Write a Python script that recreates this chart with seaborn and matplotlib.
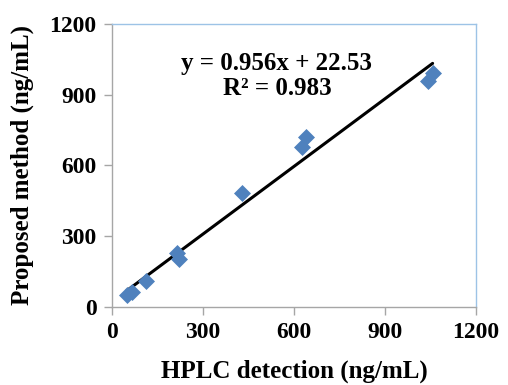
import numpy as np
import pandas as pd
import matplotlib
matplotlib.use("Agg")
import matplotlib.pyplot as plt
import seaborn as sns

# values
hplc = [48, 65, 112, 215, 220, 430, 625, 639, 1041, 1057]
proposed = [51, 65, 110, 228, 204, 482, 680, 720, 958, 994]
slope = 0.956
intercept = 22.53
r2 = 0.983
ticks = [0, 300, 600, 900, 1200]

df = pd.DataFrame({"hplc": hplc, "proposed": proposed})

sns.set_style("white")
plt.rcParams['font.family'] = ['Liberation Serif', 'DejaVu Serif']
plt.rcParams['font.weight'] = 'bold'
plt.rcParams['text.color'] = 'black'
plt.rcParams['axes.labelcolor'] = 'black'
plt.rcParams['xtick.labelcolor'] = 'black'
plt.rcParams['ytick.labelcolor'] = 'black'

fig = plt.figure(figsize=(5.08, 3.85), dpi=100)
ax = fig.add_axes([0.2205, 0.2026, 0.937 - 0.2205, 0.9377 - 0.2026])

# trend line from the fit equation
xl = np.array([min(hplc), max(hplc)])
ax.plot(xl, slope * xl + intercept, color="black", lw=2.2, zorder=2)

sns.scatterplot(data=df, x="hplc", y="proposed", marker="D", s=75,
                color="#4F81BD", edgecolor="#4F81BD", linewidth=0, ax=ax, zorder=3)

ax.set_xlim(0, 1200)
ax.set_ylim(0, 1200)
ax.set_xticks(ticks)
ax.set_yticks(ticks)
ax.set_xticklabels([str(t) for t in ticks], fontsize=17, fontweight="bold")
ax.set_yticklabels([str(t) for t in ticks], fontsize=17, fontweight="bold")
ax.tick_params(axis="both", direction="out", length=6, width=1, color="#A6A6A6",
               labelcolor="black", pad=5, bottom=True, left=True)
ax.set_xlabel("HPLC detection (ng/mL)", fontsize=18, fontweight="bold", labelpad=12)
ax.set_ylabel("Proposed method (ng/mL)", fontsize=18, fontweight="bold", labelpad=11)

for s in ["left", "bottom"]:
    ax.spines[s].set_color("#A6A6A6")
for s in ["top", "right"]:
    ax.spines[s].set_color("#9DC3E6")
for s in ax.spines.values():
    s.set_linewidth(1)

ax.text(0.453, 0.816, f"y = {slope}x + {intercept}\nR\u00b2 = {r2}", transform=ax.transAxes,
        ha="center", va="center", fontsize=18, fontweight="bold", linespacing=1.1,
        color="black")

fig.savefig("out.png", dpi=100)
